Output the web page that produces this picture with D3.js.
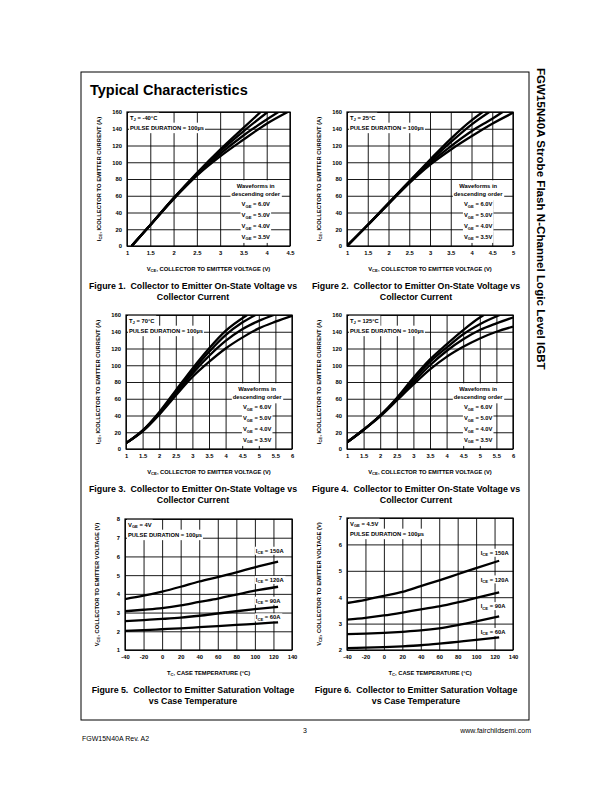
<!DOCTYPE html>
<html><head><meta charset="utf-8">
<script src="https://cdn.jsdelivr.net/npm/d3@7"></script>
<style>
body{margin:0;background:#fff;}
svg{display:block;font-family:"Liberation Sans",Arial,Helvetica,sans-serif;}
text{white-space:pre;}
</style></head><body>
<svg id="page" width="612" height="792"></svg>
<script>
// ---------------- DATA ----------------
const vgeLabels = ["V_{GE} = 6.0V","V_{GE} = 5.0V","V_{GE} = 4.0V","V_{GE} = 3.5V"];
const iceLabels = ["I_{CE} = 150A","I_{CE} = 120A","I_{CE} = 90A","I_{CE} = 60A"];
const iceTicks = [0,20,40,60,80,100,120,140,160];
const vceTicks45 = [1,1.5,2,2.5,3,3.5,4,4.5];
const vceTicks5 = [1,1.5,2,2.5,3,3.5,4,4.5,5];
const vceTicks6 = [1,1.5,2,2.5,3,3.5,4,4.5,5,5.5,6];
const tempTicks = [-40,-20,0,20,40,60,80,100,120,140];
const vsatTicks5 = [1,2,3,4,5,6,7,8];
const vsatTicks6 = [2,3,4,5,6,7];

// Figure 1, TJ = -40C  [VCE, ICE]
const fig1_6v0 = [[1.1,0],[1.5,25],[2,57],[2.5,87],[3,115],[3.5,141],[3.87,160]];
const fig1_5v0 = [[1.1,0],[1.5,25],[2,57],[2.5,86],[3,113],[3.5,137],[4.02,160]];
const fig1_4v0 = [[1.1,0],[1.5,25],[2,57],[2.5,85],[3,110],[3.5,132],[4,151],[4.25,160]];
const fig1_3v5 = [[1.1,0],[1.5,25],[2,56],[2.5,84],[3,107],[3.5,127],[4,146],[4.45,160]];
// Figure 2, TJ = 25C
const fig2_6v0 = [[1,0],[1.5,25],[2,51],[2.5,77],[3,103],[3.5,128],[4,150],[4.27,160]];
const fig2_5v0 = [[1,0],[1.5,25],[2,51],[2.5,77],[3,101],[3.5,124],[4,145],[4.43,160]];
const fig2_4v0 = [[1,0],[1.5,25],[2,51],[2.5,76],[3,99],[3.5,119],[4,137],[4.5,152],[4.75,160]];
const fig2_3v5 = [[1,0],[1.5,25],[2,50],[2.5,75],[3,97],[3.5,115],[4,131],[4.5,146],[5,159]];
// Figure 3, TJ = 70C
const fig3_6v0 = [[1,7],[1.5,22],[2,44],[2.5,70],[3,96],[3.5,120],[4,141],[4.65,160]];
const fig3_5v0 = [[1,7],[1.5,22],[2,43],[2.5,68],[3,93],[3.5,116],[4,136],[4.5,151],[4.9,160]];
const fig3_4v0 = [[1,7],[1.5,22],[2,42],[2.5,66],[3,90],[3.5,111],[4,129],[4.5,143],[5,153],[5.45,160]];
const fig3_3v5 = [[1,7],[1.5,21],[2,41],[2.5,64],[3,86],[3.5,104],[4,120],[4.5,133],[5,144],[5.5,152],[6,159]];
// Figure 4, TJ = 125C
const fig4_6v0 = [[1,8],[1.5,23],[2,40],[2.5,61],[3,85],[3.5,107],[4,125],[4.5,142],[5,157],[5.12,160]];
const fig4_5v0 = [[1,8],[1.5,23],[2,40],[2.5,60],[3,83],[3.5,104],[4,121],[4.5,137],[5,149],[5.6,160]];
const fig4_4v0 = [[1,8],[1.5,23],[2,40],[2.5,59],[3,80],[3.5,100],[4,117],[4.5,131],[5,142],[5.5,150],[6,157]];
const fig4_3v5 = [[1,8],[1.5,23],[2,39],[2.5,58],[3,77],[3.5,95],[4,110],[4.5,122],[5,132],[5.5,140],[6,146]];
// Figure 5, VGE = 4V  [TC, VCE]
const fig5_150 = [[-40,3.72],[-20,3.9],[0,4.12],[20,4.38],[40,4.66],[60,4.9],[80,5.15],[100,5.42],[125,5.72]];
const fig5_120 = [[-40,3.07],[-20,3.15],[0,3.24],[20,3.38],[40,3.57],[60,3.75],[80,3.96],[100,4.17],[125,4.38]];
const fig5_90  = [[-40,2.54],[-20,2.6],[0,2.66],[20,2.73],[40,2.83],[60,2.95],[80,3.07],[100,3.18],[125,3.3]];
const fig5_60  = [[-40,2.02],[-20,2.06],[0,2.11],[20,2.16],[40,2.22],[60,2.28],[80,2.34],[100,2.4],[125,2.48]];
// Figure 6, VGE = 4.5V
const fig6_150 = [[-40,3.78],[-20,3.9],[0,4.05],[20,4.2],[40,4.42],[60,4.64],[80,4.87],[100,5.1],[125,5.38]];
const fig6_120 = [[-40,3.15],[-20,3.22],[0,3.31],[20,3.42],[40,3.54],[60,3.65],[80,3.8],[100,3.97],[125,4.18]];
const fig6_90  = [[-40,2.6],[-20,2.62],[0,2.65],[20,2.69],[40,2.74],[60,2.82],[80,2.94],[100,3.08],[125,3.27]];
const fig6_60  = [[-40,2.07],[-20,2.09],[0,2.11],[20,2.14],[40,2.18],[60,2.24],[80,2.31],[100,2.38],[125,2.48]];

// ---------------- DRAW ----------------
const svg = d3.select("#page");
const FS = 5.8;

function rich(t, str, fs){
  const parts = str.split(/(_\{[^}]*\})/).filter(s=>s.length);
  let sub=false;
  parts.forEach(p=>{
    if(p.startsWith("_{")){
      t.append("tspan").attr("font-size",fs*0.72).attr("dy",fs*0.25).text(p.slice(2,-1));
      sub=true;
    } else {
      const s=t.append("tspan").text(p);
      if(sub){ s.attr("dy",-fs*0.25); sub=false; }
    }
  });
  return t;
}

function label(g, str, x, y, opts={}){
  const fs = opts.fs||FS;
  const t = g.append("text").attr("x",x).attr("y",y)
    .attr("font-size",fs).attr("font-weight",opts.weight||"bold")
    .attr("text-anchor",opts.anchor||"start").attr("fill","#000");
  rich(t,str,fs);
  if(opts.transform) t.attr("transform",opts.transform);
  if(opts.bg){
    const b=t.node().getBBox();
    const h = opts.bgH||b.height;
    opts.bg.append("rect").attr("x",b.x-1).attr("y",y-fs*0.36-h/2)
      .attr("width",b.width+2).attr("height",h).attr("fill","#fff");
  }
  return t;
}

let clipId=0;
function chart(cfg){
  const {L,T,W,H} = cfg;
  const g = svg.append("g");
  const x = d3.scaleLinear().domain(cfg.xDom).range([L,L+W]);
  const y = d3.scaleLinear().domain(cfg.yDom).range([T+H,T]);
  // grid + tick labels via axes
  const ax = g.append("g").attr("transform",`translate(0,${T+H})`)
    .call(d3.axisBottom(x).tickValues(cfg.xTicks).tickSize(-H).tickPadding(5).tickFormat(d=>String(d)));
  const ay = g.append("g").attr("transform",`translate(${L},0)`)
    .call(d3.axisLeft(y).tickValues(cfg.yTicks).tickSize(-W).tickPadding(5).tickFormat(d=>String(d)));
  [ax,ay].forEach(a=>{
    a.select(".domain").remove();
    a.selectAll("line").attr("stroke","#000").attr("stroke-width",0.9);
    a.selectAll("text").attr("font-size",FS).attr("font-weight","bold")
      .attr("font-family",'"Liberation Sans",Arial,sans-serif').attr("fill","#000");
  });
  g.append("rect").attr("x",L).attr("y",T).attr("width",W).attr("height",H)
    .attr("fill","none").attr("stroke","#000").attr("stroke-width",1.2);
  // annotations (white background under text)
  const bgG = g.append("g");
  const an = g.append("g");
  cfg.topLeft.forEach((s,i)=>label(an,s,L+3,T+8+i*10,{bg:bgG,bgH:10.5}));
  if(cfg.legend){
    const cx = L+W*0.79;
    const rows=[["Waveforms in",0.555],["descending order",0.615]].concat(vgeLabels.map((s,i)=>[s,0.69+i*0.081]));
    rows.forEach(([s,f])=>label(an,s,cx,T+H*f+2,{anchor:"middle",bg:bgG,bgH:12}));
  }
  if(cfg.curveLabels){
    cfg.curveLabels.forEach(([s,yv])=>label(an,s,x(cfg.labelX),y(yv)+2,{bg:bgG,bgH:8}));
  }
  // curves
  const cid="clip"+(clipId++);
  g.append("clipPath").attr("id",cid).append("rect").attr("x",L).attr("y",T).attr("width",W+2).attr("height",H);
  const line = d3.line().x(d=>x(d[0])).y(d=>y(d[1])).curve(d3.curveMonotoneX);
  g.append("g").attr("clip-path",`url(#${cid})`).selectAll("path").data(cfg.series).join("path")
    .attr("d",line).attr("fill","none").attr("stroke","#000").attr("stroke-width",2.3).attr("stroke-linejoin","round");
  // axis titles
  label(g,cfg.xTitle,L+W/2,T+H+25,{anchor:"middle"});
  label(g,cfg.yTitle,0,0,{anchor:"middle",transform:`translate(${L-26},${T+H/2}) rotate(-90)`});
  // caption
  cfg.caption.forEach((s,i)=>label(g,s,cfg.capX,T+H+43+i*11,{anchor:"middle",fs:8.8}));
}

// page frame
svg.append("rect").attr("x",81).attr("y",72).attr("width",448).attr("height",648)
  .attr("fill","none").attr("stroke","#000").attr("stroke-width",1);
svg.append("text").attr("x",90).attr("y",95).attr("font-size",14.5).attr("font-weight","bold").text("Typical Characteristics");
svg.append("text").attr("transform","translate(537,68) rotate(90)").attr("font-size",11.6).attr("font-weight","bold")
  .text("FGW15N40A Strobe Flash N-Channel Logic Level IGBT");
svg.append("text").attr("x",305).attr("y",733).attr("font-size",7).attr("text-anchor","middle").text("3");
svg.append("text").attr("x",531).attr("y",733).attr("font-size",7).attr("text-anchor","end").text("www.fairchildsemi.com");
svg.append("text").attr("x",82).attr("y",741).attr("font-size",7).text("FGW15N40A Rev. A2");

const vceTitle = "V_{CE}, COLLECTOR TO EMITTER VOLTAGE (V)";
const iceTitle = "I_{CE}, ICOLLECTOR TO EMITTER CURRENT (A)";
const tcTitle = "T_{C}, CASE TEMPERATURE (°C)";
const capIV = n=>[`Figure ${n}.  Collector to Emitter On-State Voltage vs`,"Collector Current"];
const capT = n=>[`Figure ${n}.  Collector to Emitter Saturation Voltage`,"vs Case Temperature"];

chart({L:127,T:112,W:163,H:134,xDom:[1,4.5],yDom:[0,160],xTicks:vceTicks45,yTicks:iceTicks,
  series:[fig1_6v0,fig1_5v0,fig1_4v0,fig1_3v5],topLeft:["T_{J} = -40°C","PULSE DURATION = 100µs"],legend:true,
  xTitle:vceTitle,yTitle:iceTitle,caption:capIV(1),capX:193});
chart({L:347,T:112,W:166,H:134,xDom:[1,5],yDom:[0,160],xTicks:vceTicks5,yTicks:iceTicks,
  series:[fig2_6v0,fig2_5v0,fig2_4v0,fig2_3v5],topLeft:["T_{J} = 25°C","PULSE DURATION = 100µs"],legend:true,
  xTitle:vceTitle,yTitle:iceTitle,caption:capIV(2),capX:416});
chart({L:126,T:315,W:166,H:134,xDom:[1,6],yDom:[0,160],xTicks:vceTicks6,yTicks:iceTicks,
  series:[fig3_6v0,fig3_5v0,fig3_4v0,fig3_3v5],topLeft:["T_{J} = 70°C","PULSE DURATION = 100µs"],legend:true,
  xTitle:vceTitle,yTitle:iceTitle,caption:capIV(3),capX:193});
chart({L:347,T:315,W:166,H:134,xDom:[1,6],yDom:[0,160],xTicks:vceTicks6,yTicks:iceTicks,
  series:[fig4_6v0,fig4_5v0,fig4_4v0,fig4_3v5],topLeft:["T_{J} = 125°C","PULSE DURATION = 100µs"],legend:true,
  xTitle:vceTitle,yTitle:iceTitle,caption:capIV(4),capX:416});
chart({L:125,T:519,W:167,H:131,xDom:[-40,140],yDom:[1,8],xTicks:tempTicks,yTicks:vsatTicks5,
  series:[fig5_150,fig5_120,fig5_90,fig5_60],topLeft:["V_{GE} = 4V","PULSE DURATION = 100µs"],
  curveLabels:[[iceLabels[0],6.3],[iceLabels[1],4.74],[iceLabels[2],3.63],[iceLabels[3],2.74]],labelX:101,
  xTitle:tcTitle,yTitle:vceTitle,caption:capT(5),capX:193});
chart({L:347,T:518,W:166,H:132,xDom:[-40,140],yDom:[2,7],xTicks:tempTicks,yTicks:vsatTicks6,
  series:[fig6_150,fig6_120,fig6_90,fig6_60],topLeft:["V_{GE} = 4.5V","PULSE DURATION = 100µs"],
  curveLabels:[[iceLabels[0],5.68],[iceLabels[1],4.67],[iceLabels[2],3.66],[iceLabels[3],2.68]],labelX:105,
  xTitle:tcTitle,yTitle:vceTitle,caption:capT(6),capX:416});
</script>
</body></html>
